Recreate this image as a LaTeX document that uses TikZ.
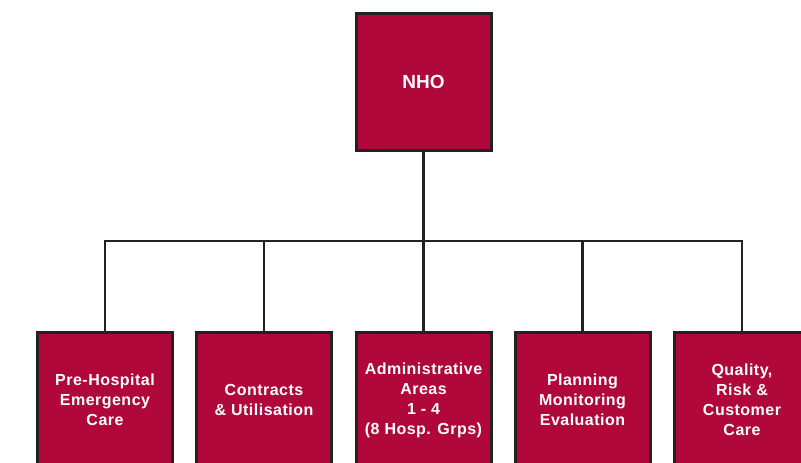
\documentclass[tikz,border=0pt]{standalone}
\usepackage{fontspec}
\setmainfont{Liberation Sans}
\newfontfamily\boxfont[LetterSpace=3]{Liberation Sans}
\definecolor{crimson}{HTML}{B0083A}
\definecolor{edge}{HTML}{222222}
\begin{document}
\begin{tikzpicture}[x=1pt,y=-1pt,
  unitbox/.style={draw=edge, line width=3pt, fill=crimson, text=white,
    minimum width=135pt, align=center, inner sep=0pt,
    font=\boxfont\bfseries\fontsize{16}{20}\selectfont},
  conn/.style={draw=edge, line width=2.7pt}]
\useasboundingbox (0,0) rectangle (801,463);
\clip (0,0) rectangle (801,463);
\fill[white] (0,0) rectangle (801,463);
\node[unitbox, minimum height=137pt, font=\bfseries\fontsize{19}{22}\selectfont] (nho) at (423.5,81.5) {NHO};
\node[unitbox, minimum height=135pt] (b1) at (105,400) {Pre-Hospital\\Emergency\\Care};
\node[unitbox, minimum height=135pt] (b2) at (264,400) {Contracts\\\& Utilisation};
\node[unitbox, minimum height=135pt] (b3) at (423.5,400) {Administrative\\Areas\\1 - 4\\(8 Hosp. Grps)};
\node[unitbox, minimum height=135pt] (b4) at (582.5,400) {Planning\\Monitoring\\Evaluation};
\node[unitbox, minimum height=135pt] (b5) at (742,400) {Quality,\\Risk \&\\Customer\\Care};
\coordinate (bus) at (423.5,241);
\draw[conn] (nho.south) -- (bus);
\draw[conn] (b1.north) |- (b5.north |- bus) -- (b5.north);
\draw[conn] (b2.north) -- (b2.north |- bus);
\draw[conn] (b3.north) -- (b3.north |- bus);
\draw[conn] (b4.north) -- (b4.north |- bus);
\end{tikzpicture}
\end{document}
